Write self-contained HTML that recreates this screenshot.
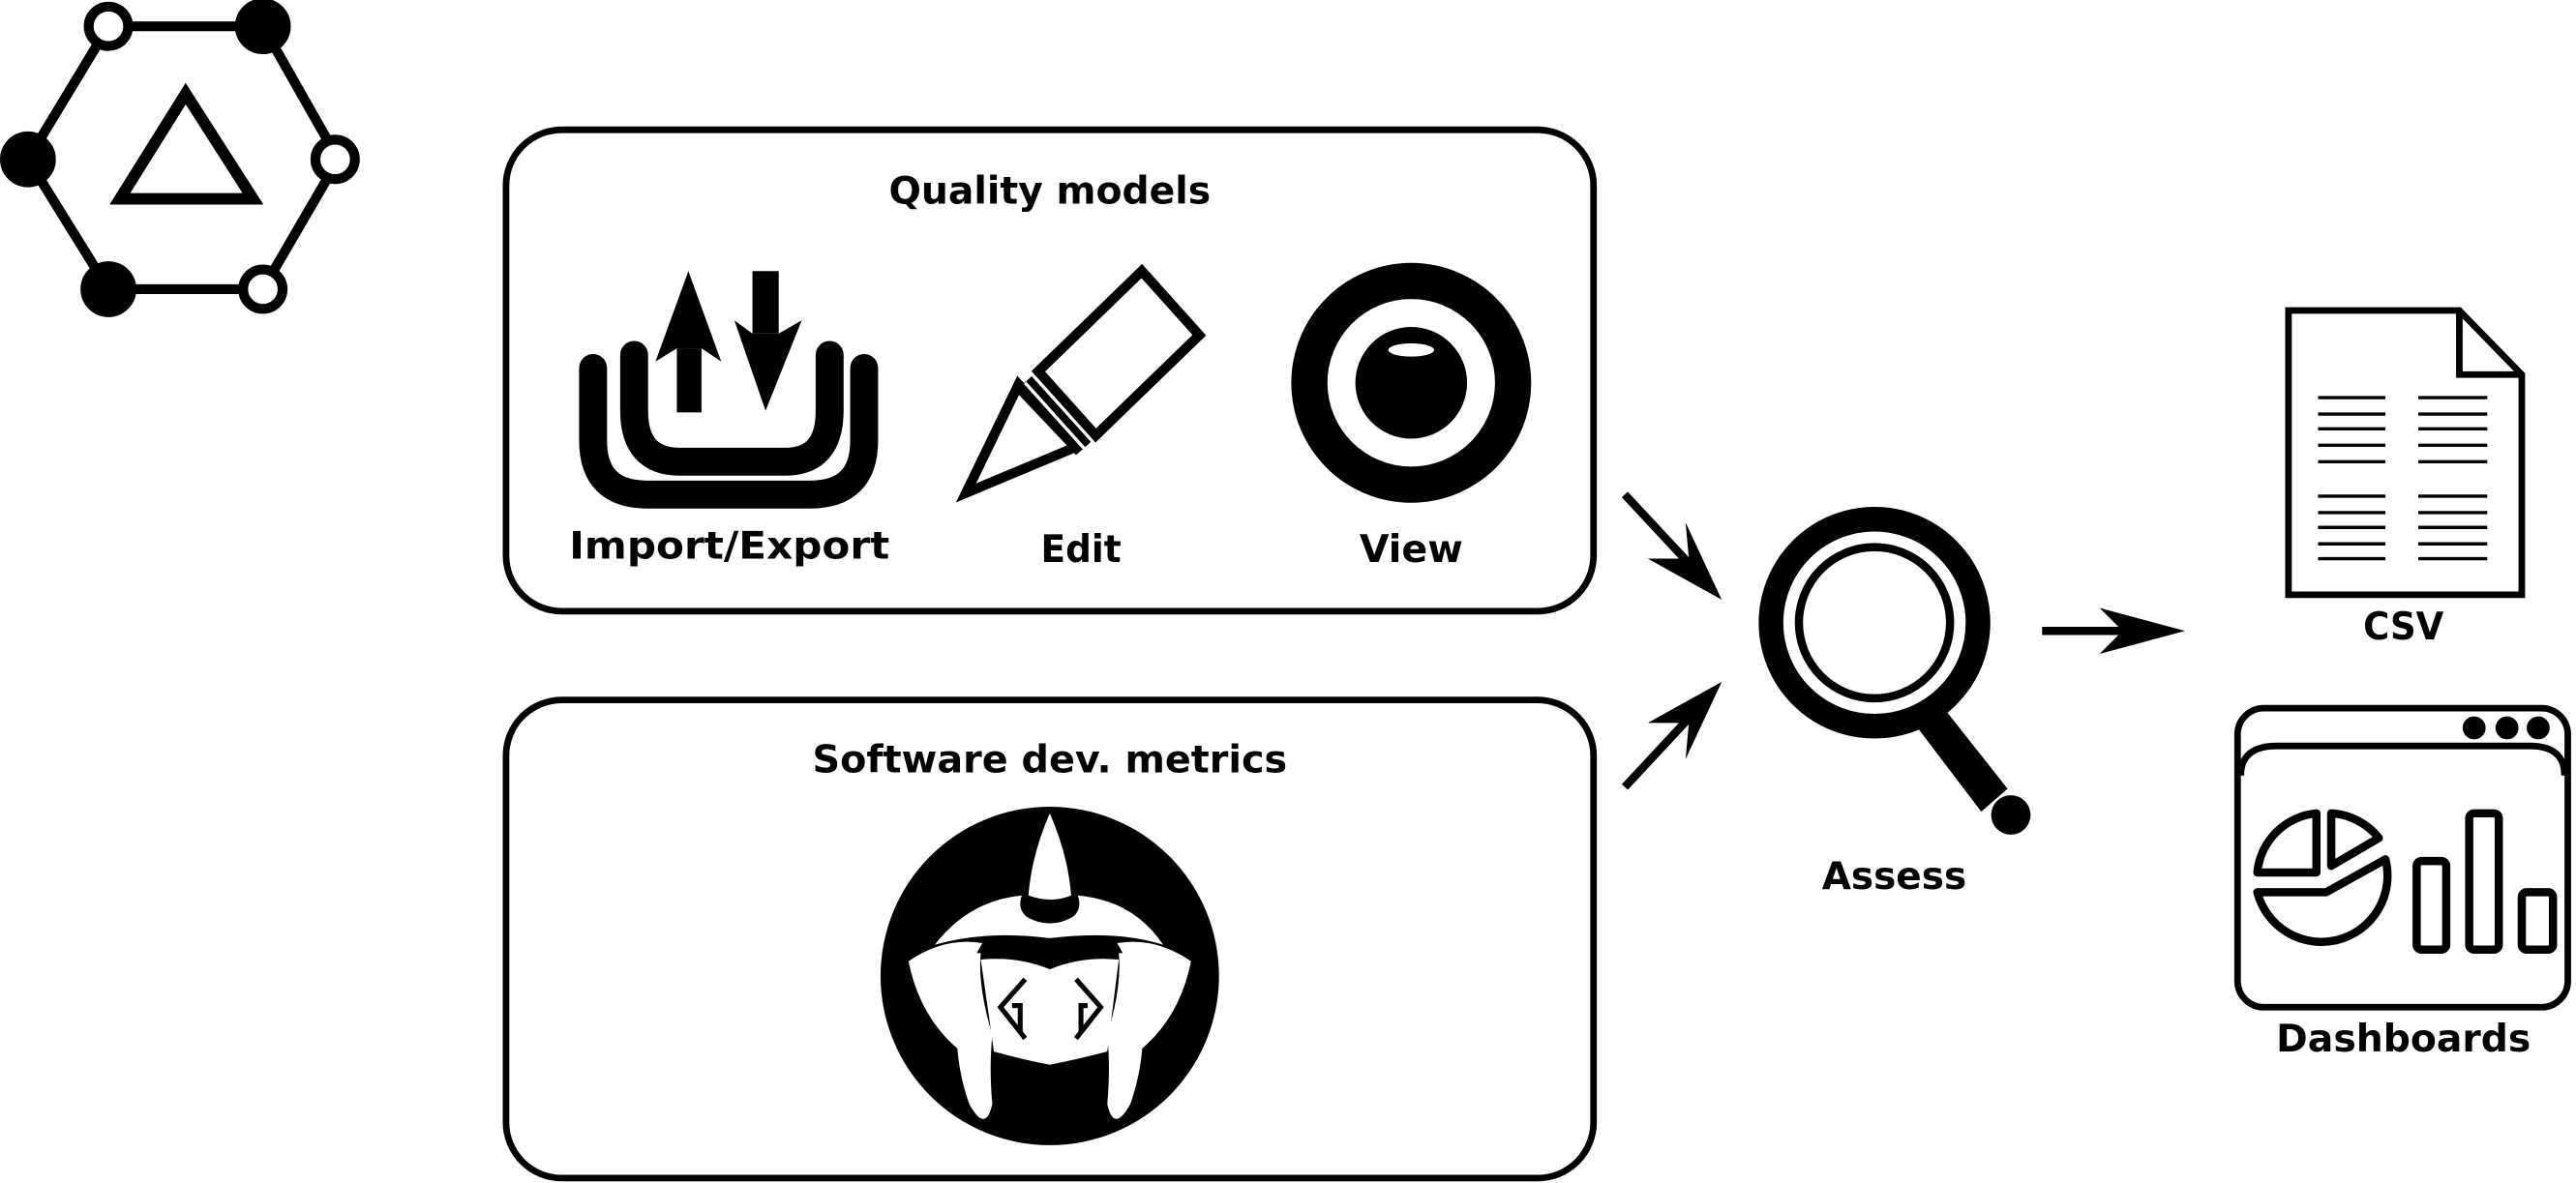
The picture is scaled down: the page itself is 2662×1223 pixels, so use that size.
<!DOCTYPE html>
<html><head><meta charset="utf-8"><style>
html,body{margin:0;padding:0;background:#fff;}
svg{display:block}
text{font-family:"DejaVu Sans","Liberation Sans",sans-serif;font-weight:bold;font-size:23px;text-anchor:middle;fill:#000}
</style></head><body>
<svg width="2662" height="1223" viewBox="0 0 1568 720" preserveAspectRatio="none" xmlns="http://www.w3.org/2000/svg">
<!-- logo -->
<g stroke="#000" stroke-width="6" fill="none">
<polygon points="66,16 160,16 206,97 160,176 66,176 17,97"/>
<polygon points="113,57 154,121 73,121" stroke-width="7"/>
</g>
<g stroke="#000" stroke-width="6">
<circle cx="160" cy="16" r="14" fill="#000"/>
<circle cx="17" cy="97" r="14" fill="#000"/>
<circle cx="66" cy="176" r="14" fill="#000"/>
<circle cx="66" cy="16" r="12" fill="#fff"/>
<circle cx="204" cy="97" r="12" fill="#fff"/>
<circle cx="160" cy="176" r="12" fill="#fff"/>
</g>
<!-- boxes -->
<rect x="308" y="79" width="662" height="293" rx="34" fill="none" stroke="#000" stroke-width="4"/>
<rect x="308" y="426" width="662" height="291" rx="34" fill="none" stroke="#000" stroke-width="4"/>
<text x="639" y="124" textLength="196" lengthAdjust="spacingAndGlyphs">Quality models</text>
<text x="639" y="470" textLength="289" lengthAdjust="spacingAndGlyphs">Software dev. metrics</text>
<text x="444" y="340" textLength="195" lengthAdjust="spacingAndGlyphs">Import/Export</text>
<text x="658" y="342" textLength="49" lengthAdjust="spacingAndGlyphs">Edit</text>
<text x="859" y="342" textLength="63" lengthAdjust="spacingAndGlyphs">View</text>
<!-- import/export -->
<g fill="none" stroke="#000" stroke-width="17" stroke-linecap="round">
<path d="M 361 224 V 268 Q 361 301 394 301 H 493 Q 526 301 526 268 V 224"/>
<path d="M 386 216 V 250 Q 386 281 414 281 H 478 Q 505 281 505 250 V 216"/>
</g>
<rect x="412" y="212" width="15" height="39" fill="#000"/>
<polygon points="419,165 399,220 412,212 427,212 439,220" fill="#000"/>
<rect x="458" y="165" width="16" height="38" fill="#000"/>
<polygon points="466,250 447,195 458,203 474,203 488,195" fill="#000"/>
<!-- pencil -->
<g fill="#fff" stroke="#000" stroke-width="6" stroke-linejoin="miter">
<polygon points="632,226 695,165 730,204 667,265"/>
<polygon points="588,300 620,234 655,272"/>
</g>
<polygon points="618,238 628,229 664,269 655,277" fill="#000"/>
<line x1="624" y1="233" x2="660" y2="273" stroke="#fff" stroke-width="2"/>
<!-- eye -->
<circle cx="859" cy="233" r="73" fill="#000"/>
<circle cx="859" cy="233" r="51" fill="#fff"/>
<circle cx="859" cy="233" r="34" fill="#000"/>
<ellipse cx="859" cy="213" rx="14" ry="4" fill="#fff"/>
<!-- metrics logo -->
<circle cx="639" cy="594" r="103" fill="#000"/>
<g fill="#fff">
<path d="M 639 495 Q 650 520 652 545 Q 640 550 626 545 Q 628 520 639 495 Z"/>
<path d="M 569 575 Q 590 548 622 545 Q 619 553 625 558 Q 639 566 653 558 Q 659 553 656 545 Q 690 548 708 575 Q 680 566 639 571 Q 600 566 569 575 Z"/>
<path d="M 553 585 Q 575 570 598 574 Q 582 600 585 640 Q 560 620 553 585 Z"/>
<path d="M 725 585 Q 703 570 680 574 Q 696 600 693 640 Q 718 620 725 585 Z"/>
<path d="M 589 580 Q 575 630 590 672 Q 600 690 604 672 Q 602 650 604 630 Q 595 600 597 580 Z"/>
<path d="M 689 580 Q 703 630 688 672 Q 678 690 674 672 Q 676 650 674 630 Q 683 600 681 580 Z"/>
<path d="M 597 584 Q 620 582 639 590 Q 658 582 681 584 L 674 640 Q 655 645 639 648 Q 623 645 605 640 Z"/>
</g>
<g fill="none" stroke="#000" stroke-width="3">
<path d="M 624 596 L 609 613 L 624 632 M 616 612 H 621 V 628"/>
<path d="M 655 596 L 670 613 L 655 632 M 662 612 H 658 V 628"/>
</g>
<!-- arrows -->
<g stroke="#000" stroke-width="5" fill="none">
<line x1="989" y1="301" x2="1030" y2="345"/>
<line x1="989" y1="479" x2="1030" y2="435"/>
<line x1="1243" y1="384" x2="1300" y2="384"/>
</g>
<polygon points="1048,365 1026,318 1028,340 1003,340" fill="#000"/>
<polygon points="1048,415 1026,462 1028,440 1003,440" fill="#000"/>
<polygon points="1330,384 1278,370 1292,384 1278,398" fill="#000"/>
<!-- magnifier -->
<circle cx="1141" cy="379" r="63" fill="none" stroke="#000" stroke-width="15"/>
<circle cx="1141" cy="379" r="46" fill="none" stroke="#000" stroke-width="5"/>
<polygon points="1168,444 1184,432 1222,480 1206,494" fill="#000"/>
<circle cx="1224" cy="496" r="12" fill="#000"/>
<text x="1153" y="541" textLength="88" lengthAdjust="spacingAndGlyphs">Assess</text>
<!-- csv -->
<path d="M 1393 189 H 1497 L 1535 228 V 362 H 1393 Z" fill="#fff" stroke="#000" stroke-width="4"/>
<path d="M 1497 189 V 228 H 1535" fill="none" stroke="#000" stroke-width="4"/>
<g stroke="#000" stroke-width="2">
<path d="M1411 242H1452M1411 252H1452M1411 261H1452M1411 271H1452M1411 281H1452M1411 302H1452M1411 312H1452M1411 321H1452M1411 331H1452M1411 340H1452"/>
<path d="M1472 242H1514M1472 252H1514M1472 261H1514M1472 271H1514M1472 281H1514M1472 302H1514M1472 312H1514M1472 321H1514M1472 331H1514M1472 340H1514"/>
</g>
<text x="1463" y="389" textLength="49" lengthAdjust="spacingAndGlyphs">CSV</text>
<!-- dashboard -->
<rect x="1362" y="431" width="201" height="182" rx="16" fill="none" stroke="#000" stroke-width="4"/>
<path d="M 1364 472 Q 1364 454 1386 454 H 1540 Q 1561 454 1561 472" fill="none" stroke="#000" stroke-width="4"/>
<circle cx="1506" cy="443" r="7" fill="#000"/>
<circle cx="1526" cy="443" r="7" fill="#000"/>
<circle cx="1545" cy="443" r="7" fill="#000"/>
<g fill="none" stroke="#000" stroke-width="5" stroke-linejoin="round">
<path d="M 1410 495 V 531 H 1374 A 40 40 0 0 1 1410 495 Z"/>
<path d="M 1419 495 A 40 40 0 0 1 1448 510 L 1419 527 Z"/>
<path d="M 1374 543 H 1416 L 1452 523 A 40 40 0 1 1 1374 543 Z"/>
<rect x="1471" y="524" width="18" height="54" rx="3"/>
<rect x="1503" y="495" width="18" height="83" rx="3"/>
<rect x="1535" y="543" width="19" height="35" rx="3"/>
</g>
<text x="1463" y="640" textLength="155" lengthAdjust="spacingAndGlyphs">Dashboards</text>
</svg>
</body></html>
